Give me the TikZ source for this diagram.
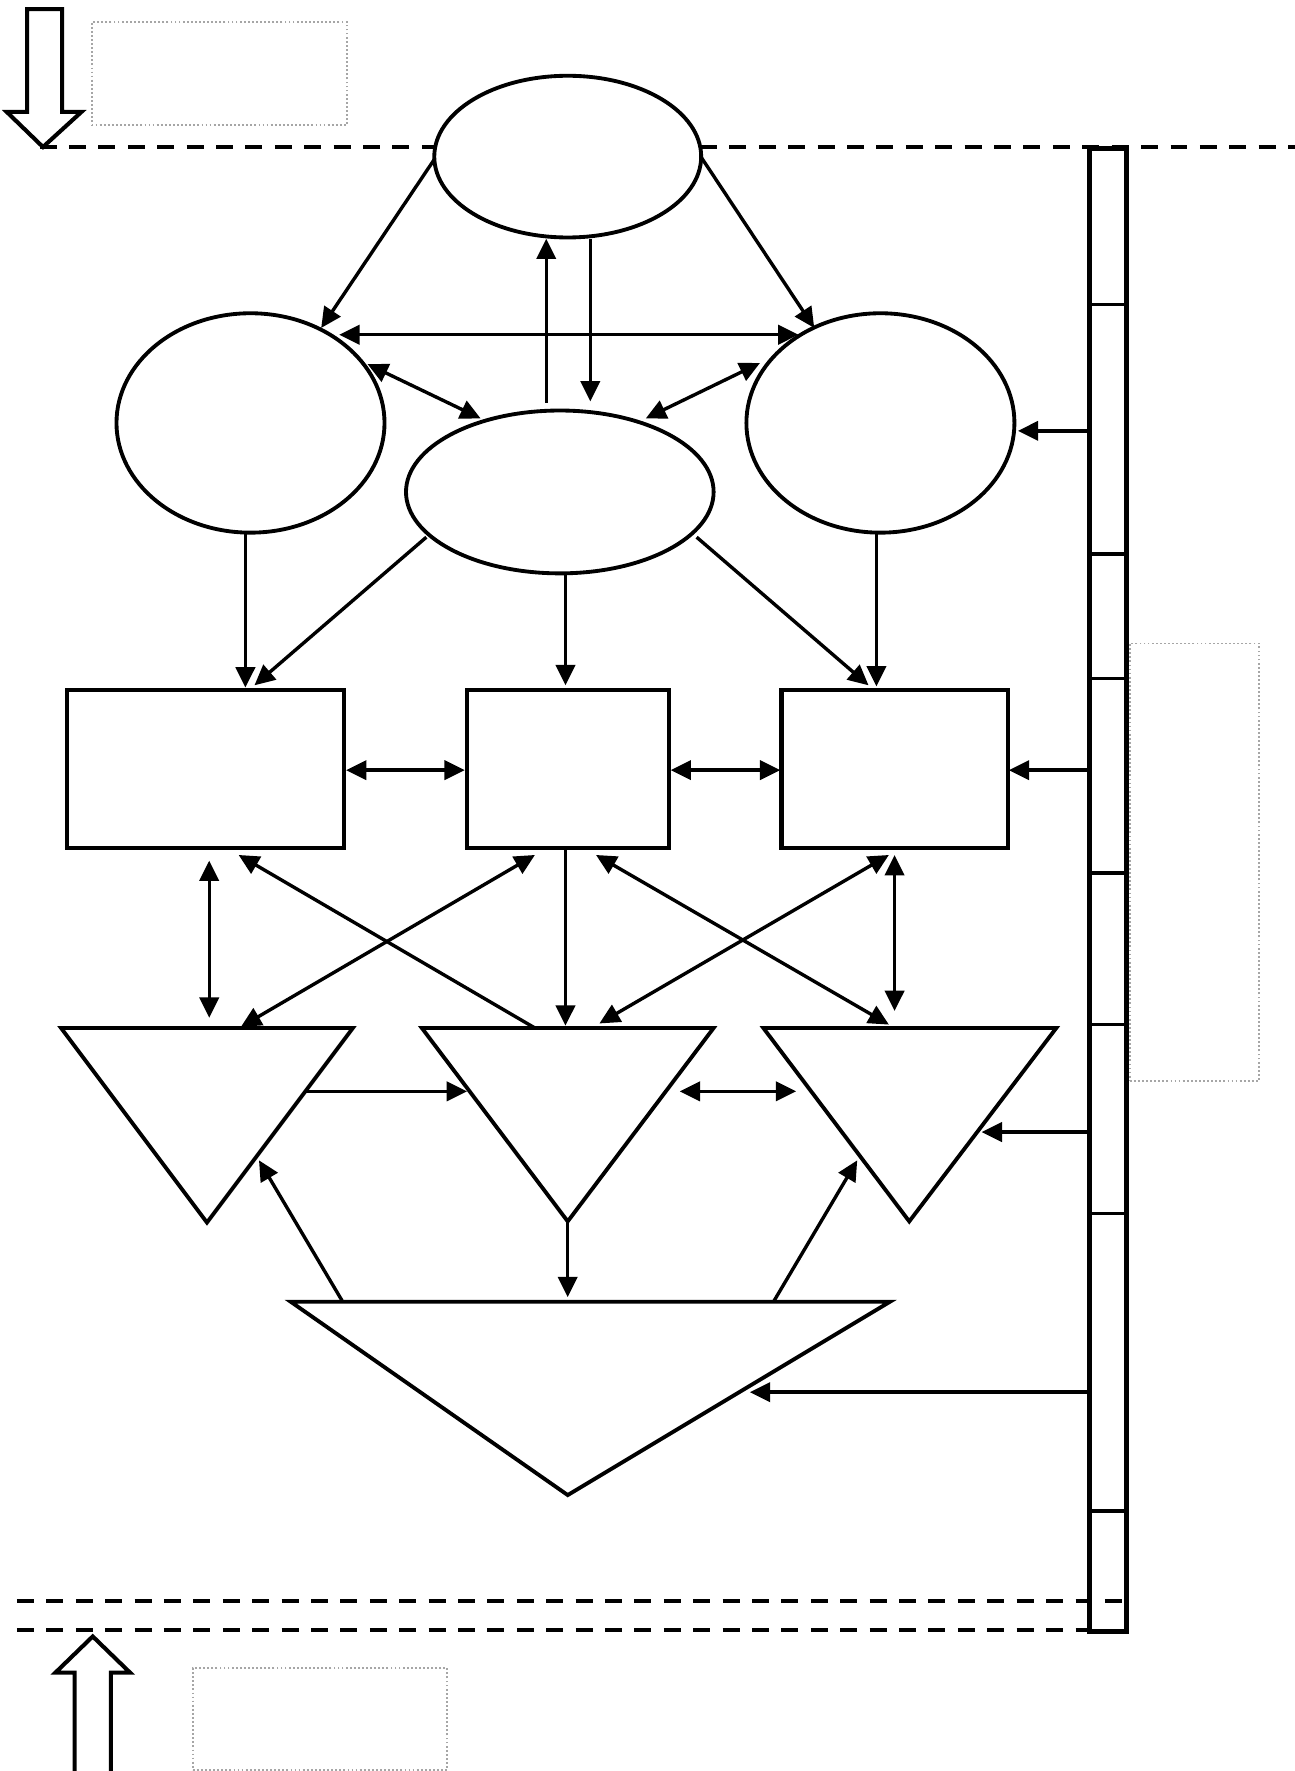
\documentclass[tikz,border=0pt]{standalone}
\usetikzlibrary{arrows.meta,shapes.geometric}
\begin{document}
\begin{tikzpicture}[x=0.5pt,y=-0.5pt,
  ell/.style={draw, ellipse, line width=1.7pt, inner sep=0pt},
  box/.style={draw, rectangle, line width=1.8pt, inner sep=0pt, minimum height=70pt},
  tri/.style={draw, line width=1.7pt, line join=miter},
  arr/.style={-{Triangle[length=9pt,width=8.5pt]}, line width=1.5pt},
  darr/.style={{Triangle[length=9pt,width=8.5pt]}-{Triangle[length=9pt,width=8.5pt]}, line width=1.5pt},
  dashln/.style={line width=1.8pt, dash pattern=on 7.5pt off 5.5pt},
  note/.style={draw=gray!70, densely dotted, line width=0.8pt},
  hollow/.style={draw, line width=1.8pt, line join=miter},
  barside/.style={draw, line width=2.2pt, inner sep=0pt}]
\useasboundingbox (0,0) rectangle (1145,1566);
\fill[white] (0,0) rectangle (1145,1566);

% notes (dotted boxes)
\node[note, minimum width=113pt, minimum height=45.5pt] (N1) at (194,65) {};
\node[note, minimum width=57pt, minimum height=193.5pt] (N2) at (1056,762.5) {};
\node[note, minimum width=112.5pt, minimum height=45pt] (N3) at (283,1520) {};

% hollow arrows
\draw[hollow] (24,8) -- (55,8) -- (55,99) -- (72,99) -- (38,130) -- (6,99) -- (24,99) -- cycle;
\draw[hollow] (66,1570) -- (66,1479) -- (49,1479) -- (82,1447) -- (115,1479) -- (98,1479) -- (98,1570);

% ellipses
\node[ell, minimum width=118pt, minimum height=71.5pt] (E1) at (502,138.5) {};
\node[ell, minimum width=118.5pt, minimum height=97pt] (E2) at (221.5,374) {};
\node[ell, minimum width=118.5pt, minimum height=97pt] (E3) at (778.5,374) {};
\node[ell, minimum width=136pt, minimum height=72pt] (E4) at (495,435) {};

% rectangles
\node[box, minimum width=122.5pt] (R1) at (181.5,680) {};
\node[box, minimum width=89.25pt] (R2) at (502,680) {};
\node[box, minimum width=100pt] (R3) at (791,680) {};

% triangles
\coordinate (T1a) at (54,909); \coordinate (T1b) at (312,909); \coordinate (T1c) at (183,1081);
\coordinate (T2a) at (373,909); \coordinate (T2b) at (631,909); \coordinate (T2c) at (502,1080);
\coordinate (T3a) at (675,909); \coordinate (T3b) at (934,909); \coordinate (T3c) at (804,1080);
\coordinate (T4a) at (257,1151); \coordinate (T4b) at (787,1151); \coordinate (T4c) at (502,1322);
\draw[tri] (T1a) -- (T1b) -- (T1c) -- cycle;
\draw[tri] (T2a) -- (T2b) -- (T2c) -- cycle;
\draw[tri] (T3a) -- (T3b) -- (T3c) -- cycle;
\draw[tri] (T4a) -- (T4b) -- (T4c) -- cycle;

% dashed boundary lines
\coordinate (D1a) at (35,130); \coordinate (D1b) at (385,130);
\coordinate (D1c) at (619,130); \coordinate (D1d) at (1145,130);
\draw[dashln] (D1a) -- (D1b);
\draw[dashln] (D1c) -- (D1d);
\coordinate (D2a) at (15,1416); \coordinate (D2b) at (996,1416);
\coordinate (D3a) at (15,1441); \coordinate (D3b) at (963,1441);
\draw[dashln] (D2a) -- (D2b);
\draw[dashln] (D3a) -- (D3b);

% vertical bar
\node[barside, minimum width=16.5pt, minimum height=656pt] (bar) at (979.5,787) {};
\foreach \yy in {269,490,600,772,906,1073,1336}
  \draw[line width=1.5pt] (963,\yy) -- (996,\yy);

% connector end points
\coordinate (a1s) at (384,141);  \coordinate (a1e) at (284,290);
\coordinate (a2s) at (620,139);  \coordinate (a2e) at (720,290);
\coordinate (a3s) at (300,296);  \coordinate (a3e) at (706,296);
\coordinate (a4s) at (483,356);  \coordinate (a4e) at (483,211);
\coordinate (a5s) at (522,211);  \coordinate (a5e) at (522,355);
\coordinate (a6s) at (325,322);  \coordinate (a6e) at (425,370);
\coordinate (a7s) at (672,321);  \coordinate (a7e) at (571,370);
\coordinate (a8s) at (963,381);  \coordinate (a8e) at (900,381);
\coordinate (a9s) at (217,471);  \coordinate (a9e) at (217,608);
\coordinate (a10s) at (377,475); \coordinate (a10e) at (225,606);
\coordinate (a11s) at (500,507); \coordinate (a11e) at (500,606);
\coordinate (a12s) at (616,475); \coordinate (a12e) at (768,606);
\coordinate (a13s) at (775,471); \coordinate (a13e) at (775,607);
\coordinate (a14s) at (306,681); \coordinate (a14e) at (411,681);
\coordinate (a15s) at (593,681); \coordinate (a15e) at (690,681);
\coordinate (a16s) at (963,681); \coordinate (a16e) at (892,681);
\coordinate (a17s) at (185,761); \coordinate (a17e) at (185,900);
\coordinate (a18s) at (473,909); \coordinate (a18e) at (211,756);
\coordinate (a19s) at (473,756); \coordinate (a19e) at (213,908);
\coordinate (a20s) at (500,750); \coordinate (a20e) at (500,907);
\coordinate (a21s) at (786,756); \coordinate (a21e) at (530,905);
\coordinate (a22s) at (527,756); \coordinate (a22e) at (786,906);
\coordinate (a23s) at (791,756); \coordinate (a23e) at (791,894);
\coordinate (a24s) at (271,965); \coordinate (a24e) at (413,965);
\coordinate (a25s) at (601,965); \coordinate (a25e) at (704,965);
\coordinate (a26s) at (963,1001); \coordinate (a26e) at (868,1001);
\coordinate (a27s) at (303,1151); \coordinate (a27e) at (229,1026);
\coordinate (a28s) at (502,1080); \coordinate (a28e) at (502,1147);
\coordinate (a29s) at (684,1151); \coordinate (a29e) at (758,1026);
\coordinate (a30s) at (963,1231); \coordinate (a30e) at (663,1231);

% connectors
\draw[arr] (a1s) -- (a1e);
\draw[arr] (a2s) -- (a2e);
\draw[darr] (a3s) -- (a3e);
\draw[arr] (a4s) -- (a4e);
\draw[arr] (a5s) -- (a5e);
\draw[darr] (a6s) -- (a6e);
\draw[darr] (a7s) -- (a7e);
\draw[arr] (a8s) -- (a8e);
\draw[arr] (a9s) -- (a9e);
\draw[arr] (a10s) -- (a10e);
\draw[arr] (a11s) -- (a11e);
\draw[arr] (a12s) -- (a12e);
\draw[arr] (a13s) -- (a13e);
\draw[darr] (a14s) -- (a14e);
\draw[darr] (a15s) -- (a15e);
\draw[arr] (a16s) -- (a16e);
\draw[darr] (a17s) -- (a17e);
\draw[arr] (a18s) -- (a18e);
\draw[darr] (a19s) -- (a19e);
\draw[arr] (a20s) -- (a20e);
\draw[darr] (a21s) -- (a21e);
\draw[darr] (a22s) -- (a22e);
\draw[darr] (a23s) -- (a23e);
\draw[arr] (a24s) -- (a24e);
\draw[darr] (a25s) -- (a25e);
\draw[arr] (a26s) -- (a26e);
\draw[arr] (a27s) -- (a27e);
\draw[arr] (a28s) -- (a28e);
\draw[arr] (a29s) -- (a29e);
\draw[arr] (a30s) -- (a30e);
\end{tikzpicture}
\end{document}
